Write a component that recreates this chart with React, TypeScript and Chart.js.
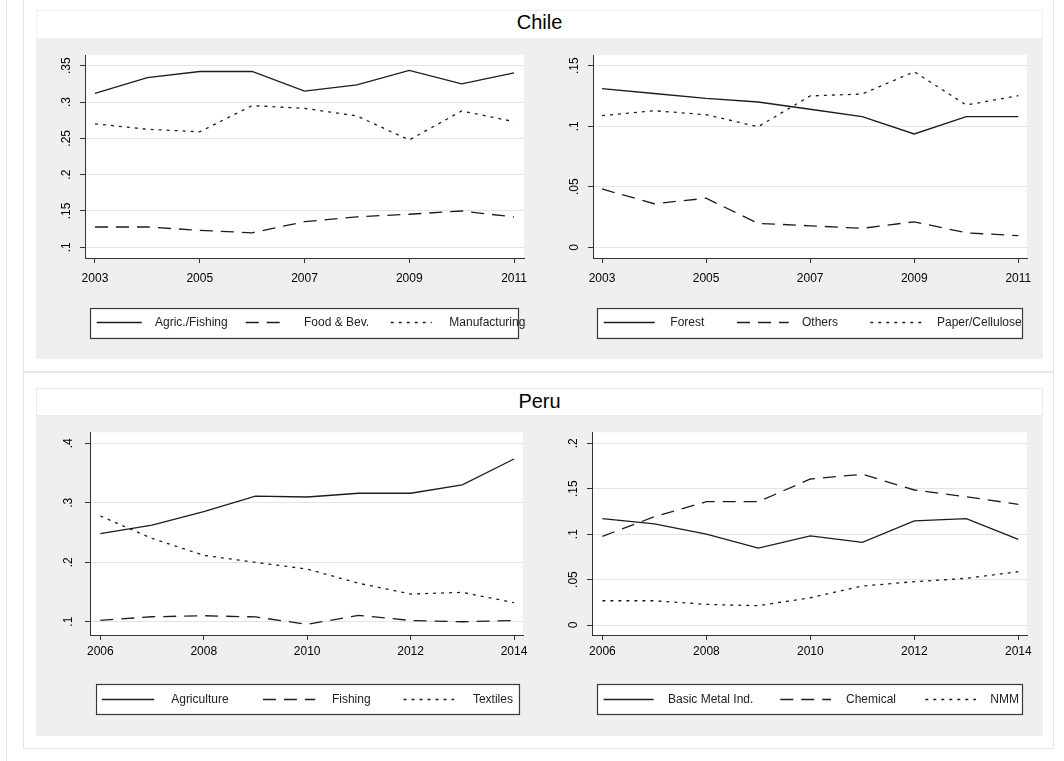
import React, { useEffect, useRef } from "react";
import { Chart, registerables } from "chart.js";

Chart.register(...registerables);

// ---- data -------------------------------------------------------------
const chileYears = [2003, 2004, 2005, 2006, 2007, 2008, 2009, 2010, 2011];
const peruYears = [2006, 2007, 2008, 2009, 2010, 2011, 2012, 2013, 2014];

const agricFishing = [0.312, 0.3335, 0.342, 0.342, 0.315, 0.3235, 0.3436, 0.325, 0.34];
const foodBev = [0.128, 0.128, 0.1234, 0.12, 0.1353, 0.142, 0.1455, 0.15, 0.1417];
const manufacturing = [0.27, 0.2625, 0.259, 0.295, 0.2913, 0.2808, 0.2477, 0.2877, 0.273];

const forest = [0.131, 0.127, 0.123, 0.12, 0.114, 0.108, 0.0936, 0.108, 0.108];
const others = [0.0482, 0.036, 0.0405, 0.0198, 0.0178, 0.0157, 0.0211, 0.012, 0.0096];
const paperCellulose = [0.1087, 0.1128, 0.1095, 0.0996, 0.125, 0.1266, 0.145, 0.1175, 0.1252];

const agriculture = [0.248, 0.2625, 0.285, 0.3113, 0.3097, 0.316, 0.316, 0.33, 0.3736];
const fishing = [0.1022, 0.1083, 0.11, 0.108, 0.0955, 0.1107, 0.102, 0.0999, 0.102];
const textiles = [0.2777, 0.24, 0.2116, 0.1998, 0.1885, 0.1645, 0.1465, 0.1493, 0.132];

const basicMetal = [0.117, 0.1112, 0.1001, 0.0847, 0.098, 0.091, 0.1145, 0.117, 0.0943];
const chemical = [0.0976, 0.1192, 0.1357, 0.1357, 0.1607, 0.1659, 0.1486, 0.1412, 0.1328];
const nmm = [0.0267, 0.0267, 0.0227, 0.0212, 0.03, 0.0429, 0.0477, 0.0514, 0.0587];

const chileXTicks = [2003, 2005, 2007, 2009, 2011];
const peruXTicks = [2006, 2008, 2010, 2012, 2014];
const chileLeftYTicks = [0.1, 0.15, 0.2, 0.25, 0.3, 0.35];
const chileRightYTicks = [0, 0.05, 0.1, 0.15];
const peruLeftYTicks = [0.1, 0.2, 0.3, 0.4];
const peruRightYTicks = [0, 0.05, 0.1, 0.15, 0.2];

// ---- styles -----------------------------------------------------------
const FONT = '"Liberation Sans", Arial, Helvetica, sans-serif';
const LINE = "#1c1c1c";
const SOLID: number[] = [];
const DASH = [13, 8];
const DOT = [3, 5];

type Series = { label: string; values: number[]; dash: number[] };

type PanelSpec = {
  box: { x: number; y: number; w: number; h: number };
  area: { l: number; t: number; r: number; b: number };
  xRange: [number, number];
  yRange: [number, number];
  years: number[];
  xTicks: number[];
  yTicks: number[];
  yLabelX: number;
  xLabelPad: number;
  series: Series[];
  legend: { x: number; y: number; w: number; h: number; items: [number, number, number][] };
};

// Stata-style tick text: ".35", "0"
const fmtTick = (v: number) => (v === 0 ? "0" : String(+v.toFixed(2)).replace(/^0\./, "."));

const panels: PanelSpec[] = [
  {
    box: { x: 36, y: 39, w: 504, h: 320 },
    area: { l: 85, t: 55, r: 524, b: 258 },
    xRange: [2002.81, 2011.19],
    yRange: [0.0853, 0.3647],
    years: chileYears,
    xTicks: chileXTicks,
    yTicks: chileLeftYTicks,
    yLabelX: 66.5,
    xLabelPad: 8,
    series: [
      { label: "Agric./Fishing", values: agricFishing, dash: SOLID },
      { label: "Food & Bev.", values: foodBev, dash: DASH },
      { label: "Manufacturing", values: manufacturing, dash: DOT },
    ],
    legend: { x: 90, y: 307.5, w: 428, h: 29.5, items: [[6.7, 45, 65], [155.7, 38.3, 214], [300.7, 41, 359.3]] },
  },
  {
    box: { x: 540, y: 39, w: 503, h: 320 },
    area: { l: 593, t: 55, r: 1027, b: 258 },
    xRange: [2002.827, 2011.167],
    yRange: [-0.0088, 0.1588],
    years: chileYears,
    xTicks: chileXTicks,
    yTicks: chileRightYTicks,
    yLabelX: 574.3,
    xLabelPad: 8,
    series: [
      { label: "Forest", values: forest, dash: SOLID },
      { label: "Others", values: others, dash: DASH },
      { label: "Paper/Cellulose", values: paperCellulose, dash: DOT },
    ],
    legend: { x: 597, y: 307.5, w: 425, h: 29.5, items: [[6.7, 51, 73.3], [140, 51.7, 205], [273.3, 51, 340]] },
  },
  {
    box: { x: 36, y: 416, w: 504, h: 320 },
    area: { l: 90, t: 432.3, r: 523, b: 635 },
    xRange: [2005.8, 2014.174],
    yRange: [0.0776, 0.4185],
    years: peruYears,
    xTicks: peruXTicks,
    yTicks: peruLeftYTicks,
    yLabelX: 68.3,
    xLabelPad: 4,
    series: [
      { label: "Agriculture", values: agriculture, dash: SOLID },
      { label: "Fishing", values: fishing, dash: DASH },
      { label: "Textiles", values: textiles, dash: DOT },
    ],
    legend: { x: 95.5, y: 684, w: 423, h: 29.7, items: [[6.4, 52.3, 75.7], [167.4, 52.3, 236.4], [308, 50.7, 377.4]] },
  },
  {
    box: { x: 540, y: 416, w: 503, h: 320 },
    area: { l: 592, t: 432.3, r: 1027, b: 635 },
    xRange: [2005.8, 2014.167],
    yRange: [-0.011, 0.2121],
    years: peruYears,
    xTicks: peruXTicks,
    yTicks: peruRightYTicks,
    yLabelX: 574,
    xLabelPad: 4,
    series: [
      { label: "Basic Metal Ind.", values: basicMetal, dash: SOLID },
      { label: "Chemical", values: chemical, dash: DASH },
      { label: "NMM", values: nmm, dash: DOT },
    ],
    legend: { x: 597, y: 684, w: 425, h: 29.7, items: [[6.6, 50, 71], [183.3, 50.7, 249], [328.3, 50.7, 393.3]] },
  },
];

// white plot region, rotated y labels and the boxed key
const panelDecor = {
  id: "panelDecor",
  beforeDraw(chart: any) {
    const { ctx, chartArea } = chart;
    ctx.save();
    ctx.fillStyle = "#ffffff";
    ctx.fillRect(chartArea.left, chartArea.top, chartArea.right - chartArea.left, chartArea.bottom - chartArea.top);
    ctx.restore();
  },
  afterDraw(chart: any, _args: any, opts: any) {
    const p: PanelSpec = opts.spec;
    const { ctx } = chart;
    const ox = p.box.x;
    const oy = p.box.y;
    const yScale = chart.scales.y;

    ctx.save();
    ctx.fillStyle = "#000";
    ctx.font = `12px ${FONT}`;
    ctx.textAlign = "center";
    ctx.textBaseline = "middle";
    for (const t of yScale.ticks) {
      const py = yScale.getPixelForValue(t.value);
      ctx.save();
      ctx.translate(p.yLabelX - ox, py);
      ctx.rotate(-Math.PI / 2);
      ctx.fillText(fmtTick(t.value), 0, 0);
      ctx.restore();
    }

    const L = p.legend;
    const lx = L.x - ox;
    const ly = L.y - oy;
    ctx.fillStyle = "#ffffff";
    ctx.fillRect(lx, ly, L.w, L.h);
    ctx.strokeStyle = "#3a3a3a";
    ctx.lineWidth = 1.2;
    ctx.setLineDash([]);
    ctx.strokeRect(Math.round(lx) + 0.5, Math.round(ly) + 0.5, Math.round(L.w), Math.round(L.h));

    const cy = Math.round(ly + L.h / 2) + 0.5;
    chart.data.datasets.forEach((ds: any, i: number) => {
      const [s, len, tx] = L.items[i];
      ctx.strokeStyle = LINE;
      ctx.lineWidth = 1.3;
      ctx.setLineDash(ds.borderDash || []);
      ctx.beginPath();
      ctx.moveTo(lx + s, cy);
      ctx.lineTo(lx + s + len, cy);
      ctx.stroke();
      ctx.setLineDash([]);
      ctx.fillStyle = "#222";
      ctx.textAlign = "left";
      ctx.fillText(ds.label, lx + tx, cy);
    });
    ctx.restore();
  },
};

function PanelChart({ spec }: { spec: PanelSpec }) {
  const ref = useRef<HTMLCanvasElement>(null);

  useEffect(() => {
    const p = spec;
    const yWidth = p.area.l - p.box.x;
    const xHeight = p.box.y + p.box.h - p.area.b;
    const chart = new Chart(ref.current as HTMLCanvasElement, {
      type: "line",
      data: {
        datasets: p.series.map((s) => ({
          label: s.label,
          data: p.years.map((yr, i) => ({ x: yr, y: s.values[i] })),
          borderColor: LINE,
          borderWidth: 1.3,
          borderDash: s.dash,
          pointRadius: 0,
          fill: false,
          tension: 0,
        })),
      },
      options: {
        responsive: false,
        animation: false,
        events: [],
        layout: {
          padding: { left: 0, top: p.area.t - p.box.y, right: p.box.x + p.box.w - p.area.r, bottom: 0 },
        },
        scales: {
          x: {
            type: "linear",
            bounds: "data",
            min: p.xRange[0],
            max: p.xRange[1],
            afterBuildTicks: (s: any) => {
              s.ticks = p.xTicks.map((v) => ({ value: v }));
            },
            afterFit: (s: any) => {
              s.height = xHeight;
            },
            ticks: {
              autoSkip: false,
              maxRotation: 0,
              minRotation: 0,
              padding: p.xLabelPad,
              color: "#000",
              font: { family: FONT, size: 12 },
              callback: (v: any) => String(v),
            },
            grid: { drawOnChartArea: false, drawTicks: true, tickLength: 5, tickColor: "#333", tickWidth: 1 },
            border: { display: true, color: "#333", width: 1 },
          },
          y: {
            type: "linear",
            bounds: "data",
            min: p.yRange[0],
            max: p.yRange[1],
            afterBuildTicks: (s: any) => {
              s.ticks = p.yTicks.map((v) => ({ value: v }));
            },
            afterFit: (s: any) => {
              s.width = yWidth;
            },
            ticks: { display: false },
            grid: { color: "#e4e4e4", lineWidth: 1, drawTicks: true, tickLength: 5, tickColor: "#333", tickWidth: 1 },
            border: { display: true, color: "#333", width: 1 },
          },
        },
        plugins: {
          legend: { display: false },
          tooltip: { enabled: false },
          title: { display: false },
          panelDecor: { spec: p },
        } as any,
      },
      plugins: [panelDecor],
    });
    return () => chart.destroy();
  }, [spec]);

  const b = spec.box;
  return (
    <canvas
      ref={ref}
      width={b.w}
      height={b.h}
      style={{ position: "absolute", left: b.x, top: b.y, width: b.w, height: b.h }}
    />
  );
}

const abs = (l: number, t: number, w: number, h: number, extra: React.CSSProperties = {}): React.CSSProperties => ({
  position: "absolute",
  left: l,
  top: t,
  width: w,
  height: h,
  boxSizing: "border-box",
  ...extra,
});

export default function App() {
  const titleStyle: React.CSSProperties = {
    fontFamily: FONT,
    fontSize: 20,
    lineHeight: "24px",
    textAlign: "center",
    color: "#000",
  };
  return (
    <div style={{ position: "absolute", left: 0, top: 0, width: 1064, height: 761, background: "#fff", overflow: "hidden" }}>
      <div style={abs(6, 0, 1, 761, { background: "#e8e8e8" })} />
      {/* Chile group */}
      <div style={abs(23, -1, 1031, 373, { border: "1px solid #e6e6e6" })} />
      <div style={abs(36, 10, 1007, 29, { background: "#fff", border: "1px solid #efefef" })} />
      <div style={abs(36, 39, 1007, 320, { background: "#efefef" })} />
      <div style={{ ...abs(36, 10, 1007, 24), ...titleStyle }}>Chile</div>
      {/* Peru group */}
      <div style={abs(23, 372, 1031, 377, { border: "1px solid #e6e6e6" })} />
      <div style={abs(36, 388, 1007, 28, { background: "#fff", border: "1px solid #ebebeb" })} />
      <div style={abs(36, 416, 1007, 320, { background: "#efefef" })} />
      <div style={{ ...abs(36, 389, 1007, 24), ...titleStyle }}>Peru</div>
      {panels.map((p, i) => (
        <PanelChart key={i} spec={p} />
      ))}
    </div>
  );
}
